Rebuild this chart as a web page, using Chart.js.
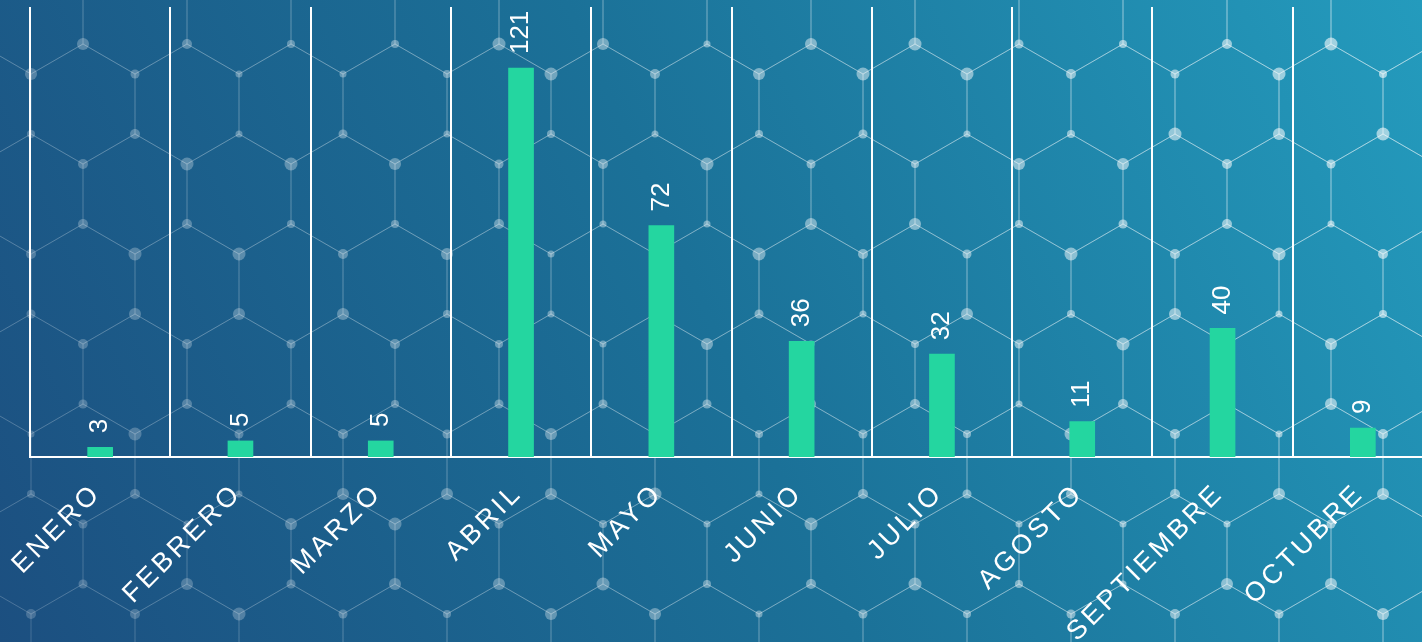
<!DOCTYPE html>
<html>
<head>
<meta charset="utf-8">
<script src="https://cdn.jsdelivr.net/npm/chart.js@4.4.0/dist/chart.umd.min.js"></script>
<style>
    html, body { margin: 0; padding: 0; width: 1422px; height: 642px; overflow: hidden; }
    #wrap { position: relative; width: 1440px; height: 642px; }
</style>
</head>
<body>
<div id="wrap"><canvas id="mesesChart"></canvas></div>
<script>
const meses = ['ENERO', 'FEBRERO', 'MARZO', 'ABRIL', 'MAYO', 'JUNIO', 'JULIO', 'AGOSTO', 'SEPTIEMBRE', 'OCTUBRE'];
const cantidades = [3, 5, 5, 121, 72, 36, 32, 11, 40, 9];
const ejeYMin = 0;
const ejeYMax = 140;

// fondo: degradado + red hexagonal decorativa
const fondoPlugin = {
    id: 'fondo',
    beforeDraw(chart) {
        const ctx = chart.ctx;
        const W = 1422, H = chart.height;
        ctx.save();
        const g = ctx.createLinearGradient(0, H, W, 0);
        g.addColorStop(0, '#1c4f80');
        g.addColorStop(0.5, '#1b7198');
        g.addColorStop(1, '#249bbd');
        ctx.fillStyle = g;
        ctx.fillRect(0, 0, chart.width, H);

        const r = 60, hw = 52;
        const vertical = new Path2D();
        const diagonal = new Path2D();
        const nodos = new Map();
        for (let j = -2; j <= 8; j++) {
            const cy = 104 + 90 * j;
            const off = (j % 2 !== 0) ? 52 : 0;
            for (let i = -2; i <= 15; i++) {
                const cx = 83 + 104 * i + off;
                const pts = [
                    [cx, cy - r], [cx + hw, cy - r / 2], [cx + hw, cy + r / 2],
                    [cx, cy + r], [cx - hw, cy + r / 2], [cx - hw, cy - r / 2]
                ];
                for (let k = 0; k < 6; k++) {
                    const a = pts[k], b = pts[(k + 1) % 6];
                    const p = (a[0] === b[0]) ? vertical : diagonal;
                    p.moveTo(a[0], a[1]);
                    p.lineTo(b[0], b[1]);
                    nodos.set(a[0] + ',' + a[1], a);
                }
            }
        }
        const lg = ctx.createLinearGradient(0, H, W, 0);
        lg.addColorStop(0, 'rgba(255,255,255,0.10)');
        lg.addColorStop(1, 'rgba(255,255,255,0.38)');
        ctx.strokeStyle = lg;
        ctx.lineWidth = 1;
        ctx.stroke(diagonal);
        ctx.lineWidth = 1.6;
        ctx.stroke(vertical);

        const ng = ctx.createLinearGradient(0, H, W, 0);
        ng.addColorStop(0, 'rgba(255,255,255,0.18)');
        ng.addColorStop(1, 'rgba(255,255,255,0.6)');
        ctx.fillStyle = ng;
        const radios = [3.5, 4, 4.5, 5, 6, 6.5];
        nodos.forEach(([x, y]) => {
            const s = Math.sin(x * 12.9898 + y * 78.233) * 43758.5453;
            const h = Math.floor((s - Math.floor(s)) * radios.length);
            ctx.beginPath();
            ctx.arc(x, y, radios[h], 0, Math.PI * 2);
            ctx.fill();
        });
        ctx.restore();
    }
};

// etiquetas de valor (verticales) y de meses (45 grados)
const etiquetasPlugin = {
    id: 'etiquetas',
    afterDatasetsDraw(chart) {
        const ctx = chart.ctx;
        const meta = chart.getDatasetMeta(0);
        ctx.save();
        ctx.fillStyle = '#ffffff';
        ctx.font = '26px "Liberation Sans", Arial, sans-serif';
        ctx.textAlign = 'left';
        ctx.textBaseline = 'middle';
        meta.data.forEach((bar, i) => {
            ctx.save();
            ctx.translate(bar.x, bar.y - 14);
            ctx.rotate(-Math.PI / 2);
            ctx.fillText(String(cantidades[i]), 0, 0);
            ctx.restore();
        });

        const xScale = chart.scales.x;
        const base = chart.chartArea.bottom;
        ctx.font = '27px "Liberation Sans", Arial, sans-serif';
        ctx.letterSpacing = '3.5px';
        ctx.textAlign = 'right';
        meses.forEach((m, i) => {
            const x = xScale.getPixelForTick(i);
            ctx.save();
            ctx.translate(x - 3, base + 32);
            ctx.rotate(-Math.PI / 4);
            ctx.fillText(m, 0, 0);
            ctx.restore();
        });
        ctx.restore();
    }
};

document.addEventListener('DOMContentLoaded', () => {
    const ctx = document.getElementById('mesesChart');
    new Chart(ctx, {
        type: 'bar',
        data: {
            labels: meses,
            datasets: [{
                data: cantidades,
                backgroundColor: '#24d6a0',
                borderWidth: 0,
                barThickness: 25
            }]
        },
        options: {
            responsive: true,
            maintainAspectRatio: false,
            animation: false,
            layout: { padding: { left: 30, top: 7, right: 7, bottom: 185 } },
            plugins: {
                legend: { display: false },
                tooltip: { enabled: false }
            },
            scales: {
                x: {
                    grid: { display: true, color: '#ffffff', lineWidth: 2, drawTicks: false, offset: true },
                    border: { display: true, color: '#ffffff', width: 2 },
                    ticks: { display: false }
                },
                y: {
                    display: false,
                    min: ejeYMin,
                    max: ejeYMax
                }
            }
        },
        plugins: [fondoPlugin, etiquetasPlugin]
    });
});
</script>
</body>
</html>
